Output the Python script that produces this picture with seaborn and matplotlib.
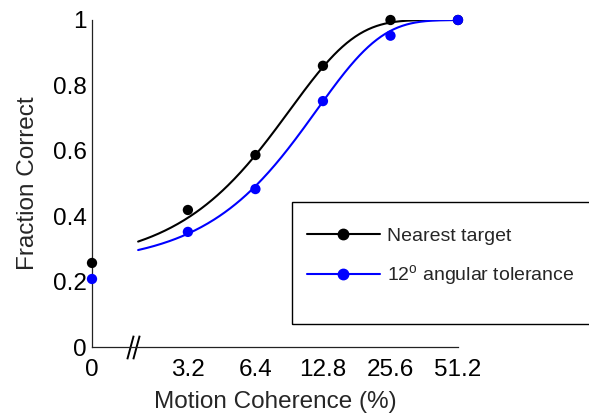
import numpy as np
import pandas as pd
import matplotlib
matplotlib.use("Agg")
import matplotlib.pyplot as plt
import seaborn as sns
from matplotlib.lines import Line2D
from matplotlib.patches import Rectangle
from matplotlib.path import Path

# measured points (fraction correct per motion coherence)
coherence = [0, 3.2, 6.4, 12.8, 25.6, 51.2]
nearest_target = [0.257, 0.419, 0.587, 0.860, 1.0, 1.0]
angular_tol = [0.208, 0.352, 0.483, 0.752, 0.952, 1.0]
tick_labels = ["0", "3.2", "6.4", "12.8", "25.6", "51.2"]

# Weibull fit parameters (guess, alpha, beta)
fit_nearest = (0.25, 9.1, 1.47)
fit_angular = (0.25, 12.0, 1.5)
fit_start = 1.92

sns.set_style("white")
plt.rcParams["font.family"] = ["Liberation Sans", "DejaVu Sans"]
plt.rcParams["mathtext.fontset"] = "custom"
plt.rcParams["mathtext.rm"] = "Liberation Sans"


def weibull(c, g, a, b):
    return 1 - (1 - g) * np.exp(-(c / a) ** b)


# log2 axis for c > C0, zero squeezed in linearly to the left of the break
C0 = 1.6
ZERO_POS = np.log2(3.2) - 1.42
K = (np.log2(C0) - ZERO_POS) / C0


def fwd(c):
    c = np.asarray(c, dtype=float)
    return np.where(c >= C0, np.log2(np.maximum(c, C0)), np.log2(C0) - (C0 - c) * K)


def inv(u):
    u = np.asarray(u, dtype=float)
    return np.where(u >= np.log2(C0), 2.0 ** np.minimum(u, 30), C0 - (np.log2(C0) - u) / K)


pts = pd.DataFrame({
    "coherence": coherence * 2,
    "frac": nearest_target + angular_tol,
    "cond": ["Nearest target"] * 6 + ["angular"] * 6,
})
cc = np.geomspace(fit_start, 51.2, 300)
curves = pd.DataFrame({
    "coherence": np.concatenate([cc, cc]),
    "frac": np.concatenate([weibull(cc, *fit_nearest), weibull(cc, *fit_angular)]),
    "cond": ["Nearest target"] * len(cc) + ["angular"] * len(cc),
})
palette = {"Nearest target": "black", "angular": "#0000ff"}

fig = plt.figure(figsize=(5.89, 4.18), dpi=100)
ax = fig.add_axes([92 / 589, 1 - 347 / 418, 366 / 589, 327 / 418])
ax.set_xscale("function", functions=(fwd, inv))

sns.lineplot(data=curves, x="coherence", y="frac", hue="cond", palette=palette,
             linewidth=1.5, legend=False, ax=ax, sort=False, estimator=None)
sns.scatterplot(data=pts, x="coherence", y="frac", hue="cond", palette=palette,
                s=55, edgecolor="none", legend=False, ax=ax, clip_on=False, zorder=5)

ax.set_xlim(0, 51.2)
ax.set_ylim(0, 1)
ax.set_xticks(coherence)
ax.set_xticklabels(tick_labels)
ax.set_yticks([0, 0.2, 0.4, 0.6, 0.8, 1])
ax.set_yticklabels(["0", "0.2", "0.4", "0.6", "0.8", "1"])
ax.minorticks_off()
ax.tick_params(direction="in", length=4, width=0.8, labelsize=17.5, colors="black")
ax.tick_params(axis="x", pad=9)
ax.tick_params(axis="y", pad=4)
for side in ["top", "right"]:
    ax.spines[side].set_visible(False)
for side in ["left", "bottom"]:
    ax.spines[side].set_linewidth(0.9)
    ax.spines[side].set_color("#222222")

ax.set_xlabel("Motion Coherence (%)", fontsize=17.5, labelpad=7)
ax.set_ylabel("Fraction Correct", fontsize=17.5, labelpad=10)

# axis break marks
slash = Path([(-0.27, -1), (0.27, 1)], [Path.MOVETO, Path.LINETO])
ax.plot([0.104, 0.120], [0, 0], transform=ax.transAxes, linestyle="none",
        marker=slash, markersize=17, mec="black", mew=1.4, clip_on=False)

# legend
fig.patches.append(Rectangle((292 / 589, 1 - 324 / 418), 310 / 589, 122 / 418,
                             transform=fig.transFigure, fill=False, ec="black", lw=1))
handles = [Line2D([], [], color="black", marker="o", ms=7.5, lw=1.5),
           Line2D([], [], color="#0000ff", marker="o", ms=7.5, lw=1.5)]
fig.legend(handles, ["Nearest target", "12$^\\mathregular{o}$ angular tolerance"],
           loc="upper left", bbox_to_anchor=(307 / 589, 1 - 227 / 418),
           borderpad=0, borderaxespad=0, frameon=False, handlelength=3.75,
           handletextpad=0.35, labelspacing=0.95, fontsize=14)

fig.savefig("out.png", dpi=100)
